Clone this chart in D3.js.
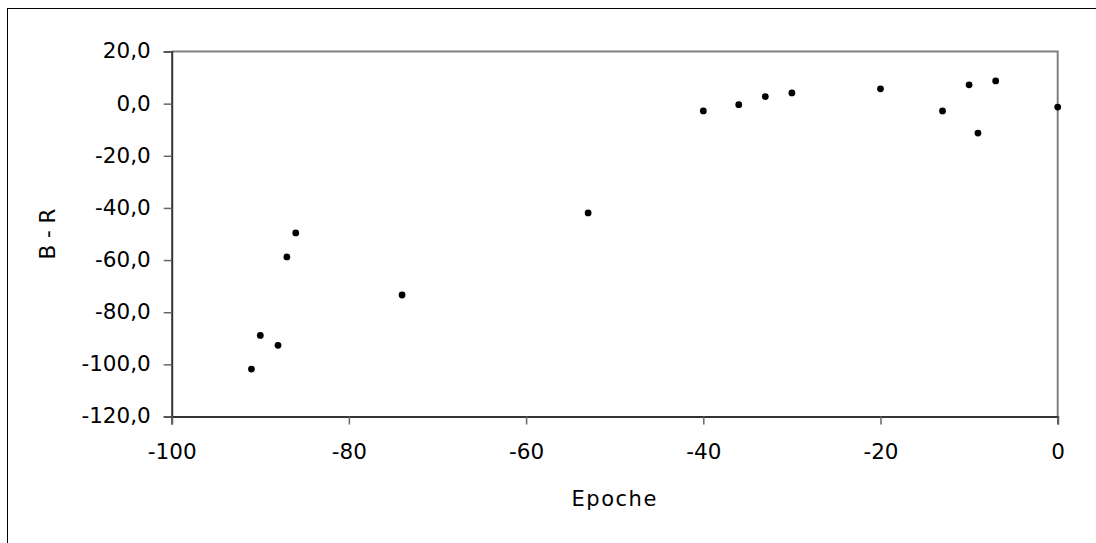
<!DOCTYPE html>
<html>
<head>
<meta charset="utf-8">
<script src="https://cdn.jsdelivr.net/npm/d3@7"></script>
<style>
  html, body { margin: 0; padding: 0; background: #fff; }
  svg { display: block; }
  text { font-family: "DejaVu Sans", Verdana, sans-serif; fill: #000; }
</style>
</head>
<body>
<svg id="chart" width="1096" height="543"></svg>
<script>
// Observations: epoch vs. B - R
const epochs = [-91, -90, -88, -87, -86, -74, -53, -40, -36, -33, -30, -20, -13, -10, -9, -7, 0];
const bMinusR = [-101.8, -88.9, -92.7, -58.8, -49.6, -73.4, -41.9, -2.8, -0.4, 2.7, 4.1, 5.7, -2.8, 7.2, -11.3, 8.7, -1.3];

const xTicks = [-100, -80, -60, -40, -20, 0];
const yTicks = [20, 0, -20, -40, -60, -80, -100, -120];
const xTitle = "Epoche";
const yTitle = "B - R";

const svg = d3.select("#chart");
const plot = { left: 171.7, right: 1057.7, top: 51.5, bottom: 416.5 };

const x = d3.scaleLinear().domain([-100, 0]).range([plot.left, plot.right]);
const y = d3.scaleLinear().domain([-120, 20]).range([plot.bottom, plot.top]);

// German number style: decimal comma, plain hyphen as minus sign
const de = d3.formatLocale({ decimal: ",", thousands: ".", grouping: [3], currency: ["", " €"], minus: "-" });
const fmtY = de.format(".1f");
const fmtX = de.format("d");

// outer chart frame (extends past the window on the right and bottom)
svg.append("rect")
  .attr("x", 7.5).attr("y", 8.5)
  .attr("width", 1200).attr("height", 700)
  .attr("fill", "none").attr("stroke", "#000").attr("stroke-width", 1);

// plot area frame: top and right edges
svg.append("path")
  .attr("d", `M${plot.left},${plot.top}H${plot.right}V${plot.bottom}`)
  .attr("fill", "none").attr("stroke", "#808080").attr("stroke-width", 2);

// y axis
const yAxis = svg.append("g")
  .attr("transform", `translate(${plot.left},0)`)
  .call(d3.axisLeft(y).tickValues(yTicks).tickFormat(fmtY).tickSize(8).tickPadding(13));
// x axis
const xAxis = svg.append("g")
  .attr("transform", `translate(0,${plot.bottom})`)
  .call(d3.axisBottom(x).tickValues(xTicks).tickFormat(fmtX).tickSize(8).tickPadding(14));

[yAxis, xAxis].forEach(g => {
  g.select(".domain").attr("stroke", "#333").attr("stroke-width", 2);
  g.selectAll(".tick line").attr("stroke", "#666").attr("stroke-width", 1.5);
  g.selectAll(".tick text")
    .attr("font-family", "DejaVu Sans, Verdana, sans-serif")
    .attr("font-size", 21.5)
    .attr("fill", "#000");
});
yAxis.selectAll(".tick text").attr("dy", "0.3em");
xAxis.selectAll(".tick text").attr("dy", "0.95em");

// axis titles
svg.append("text")
  .attr("x", x(-50)).attr("y", 506)
  .attr("text-anchor", "middle")
  .attr("font-size", 21).attr("letter-spacing", 1.5)
  .text(xTitle);

svg.append("text")
  .attr("transform", `translate(55,${(plot.top + plot.bottom) / 2}) rotate(-90)`)
  .attr("text-anchor", "middle")
  .attr("font-size", 21.5)
  .text(yTitle);

// data points
svg.append("g")
  .selectAll("circle")
  .data(epochs.map((e, i) => [e, bMinusR[i]]))
  .join("circle")
  .attr("cx", d => x(d[0]))
  .attr("cy", d => y(d[1]))
  .attr("r", 3.4)
  .attr("fill", "#000");
</script>
</body>
</html>
